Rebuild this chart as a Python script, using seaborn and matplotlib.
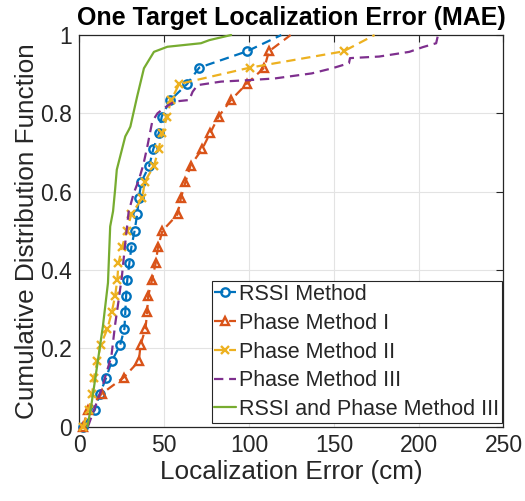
import numpy as np
import pandas as pd
import matplotlib
matplotlib.use("Agg")
import matplotlib.pyplot as plt
import seaborn as sns

# ---------------- data ----------------
steps = [i / 24 for i in range(25)]

rssi_x = [2, 9, 12, 15.8, 19, 24, 26.5, 27, 27.5, 28.2, 29.4, 30.6, 32.5, 34,
          35, 36.5, 41.2, 43.5, 46.8, 48.5, 53.5, 63.5, 70.6, 98.7, 119]
phase1_x = [2, 5, 13, 26, 35, 36, 38.9, 39.9, 40.5, 42.8, 44.9, 46.3, 48.9, 57.8,
            59.8, 62.5, 65.5, 72.3, 77.1, 82, 89.2, 98.5, 109, 111.7, 124.5]
phase2_x = [2, 5.5, 7.5, 8.5, 10.5, 12.5, 16.5, 19, 21, 22.3, 23, 25.1, 28, 30.5,
            37, 38.5, 44, 46.6, 48.9, 51.6, 54, 58.8, 100.5, 155.7, 174]

phase3_x = [5, 12.9, 18.8, 21, 23, 25, 27, 29, 32, 35, 37.6, 40, 42.9, 46, 49.8,
            55.8, 64.7, 66.7, 69.6, 83.5, 100.8, 115, 137, 149, 158.9, 159.5,
            176.7, 194.5, 202.4, 210.3, 211.4]
phase3_y = [0, 0.094, 0.179, 0.26, 0.32, 0.383, 0.469, 0.549, 0.596, 0.63, 0.668,
            0.715, 0.779, 0.8, 0.813, 0.83, 0.834, 0.855, 0.872, 0.881, 0.885,
            0.889, 0.902, 0.915, 0.928, 0.941, 0.945, 0.957, 0.969, 0.979, 1.0]

combo_x = [4.7, 6.9, 9.9, 13.8, 16.8, 18.1, 19.8, 21, 22, 25, 27, 29.1, 30, 34,
           38, 43.9, 51.8, 71.6, 76.6, 89.4]
combo_y = [0, 0.052, 0.14, 0.256, 0.367, 0.511, 0.55, 0.605, 0.656, 0.707, 0.741,
           0.758, 0.766, 0.843, 0.915, 0.957, 0.970, 0.979, 0.987, 1.0]

labels = ["RSSI Method", "Phase Method I", "Phase Method II",
          "Phase Method III", "RSSI and Phase Method III"]
xticks = [0, 50, 100, 150, 200, 250]
yticks = [0, 0.2, 0.4, 0.6, 0.8, 1]
ytick_labels = ["0", "0.2", "0.4", "0.6", "0.8", "1"]

colors = ["#0072BD", "#D95319", "#EDB120", "#7E2F8E", "#77AC30"]

# ---------------- plot ----------------
sns.set_theme(style="white")
plt.rcParams["font.family"] = ["Liberation Sans", "DejaVu Sans"]

fig = plt.figure(figsize=(5.25, 5.01), dpi=100)
ax = fig.add_axes([0.1514, 0.1487, 0.8076, 0.7814])

series = [
    (rssi_x, steps, "o", "--"),
    (phase1_x, steps, "^", "--"),
    (phase2_x, steps, "x", "--"),
    (phase3_x, phase3_y, None, "--"),
    (combo_x, combo_y, None, "-"),
]

for (xs, ys, mk, ls), lab, col in zip(series, labels, colors):
    df = pd.DataFrame({"err": xs, "cdf": ys})
    kw = dict(color=col, linewidth=1.6, linestyle=ls, clip_on=False, zorder=3)
    if mk is not None:
        kw.update(marker=mk, markersize=6, markerfacecolor="none",
                  markeredgecolor=col, markeredgewidth=1.7,
                  markevery=slice(0, -1))
    sns.lineplot(data=df, x="err", y="cdf", sort=False, estimator=None,
                 ax=ax, label=lab, **kw)
    line = ax.lines[-1]
    if ls == "--":
        line.set_dashes((4.2, 2.6))

ax.set_xlim(0, 250)
ax.set_ylim(0, 1)
ax.set_xticks(xticks)
ax.set_yticks(yticks)
ax.set_yticklabels(ytick_labels)
ax.grid(True, color="#e3e3e3", linewidth=0.8, zorder=0)
ax.set_axisbelow(True)
for s in ax.spines.values():
    s.set_color("#262626")
    s.set_linewidth(0.9)
ax.tick_params(direction="in", length=5, width=0.8, colors="#262626",
               labelsize=16.5, top=True, right=True, pad=5.5)
ax.set_xlabel("Localization Error (cm)", fontsize=18.8, color="#262626", labelpad=2)
ax.set_ylabel("Cumulative Distribution Function", fontsize=18.8, color="#262626",
              labelpad=1)
ax.set_title("One Target Localization Error (MAE)", fontsize=18,
             fontweight="bold", color="black", pad=7, loc="left", x=-0.006)

leg = ax.legend(loc="lower right", bbox_to_anchor=(0.996, 0.01), fontsize=15.5,
                frameon=True, fancybox=False, framealpha=1, edgecolor="#262626",
                borderpad=0.12, labelspacing=0.36, handlelength=1.0,
                handletextpad=0.15, borderaxespad=0.0)
leg.get_frame().set_linewidth(0.8)
for h in leg.legend_handles:
    try:
        h.set_markevery([1])
    except Exception:
        pass

fig.savefig("out.png", dpi=100)
